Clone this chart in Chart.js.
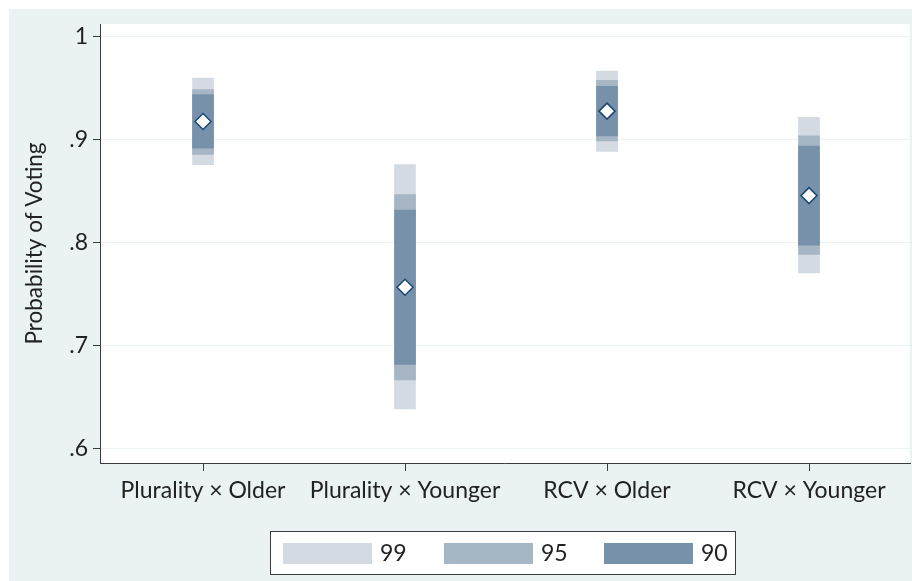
<!DOCTYPE html>
<html>
<head>
<meta charset="utf-8">
<script src="https://cdn.jsdelivr.net/npm/chart.js@4/dist/chart.umd.min.js"></script>
<style>
  html, body { margin: 0; padding: 0; background: #ffffff; }
  #wrap { width: 912px; height: 581px; position: relative; }
</style>
</head>
<body>
<div id="wrap"><canvas id="chart" width="912" height="581"></canvas></div>
<script>
// Predicted probability of voting by electoral system and age group,
// with nested 99 / 95 / 90 percent confidence intervals.
const categories = ['Plurality × Older', 'Plurality × Younger', 'RCV × Older', 'RCV × Younger'];
const estimate = [0.918, 0.757, 0.928, 0.846];
const ci99Low  = [0.876, 0.639, 0.889, 0.771];
const ci99High = [0.960, 0.876, 0.967, 0.922];
const ci95Low  = [0.886, 0.667, 0.899, 0.789];
const ci95High = [0.949, 0.847, 0.958, 0.904];
const ci90Low  = [0.892, 0.682, 0.904, 0.798];
const ci90High = [0.944, 0.832, 0.952, 0.894];
const yTicks = [0.6, 0.7, 0.8, 0.9, 1];
const levelLabels = ['99', '95', '90'];

const BG = '#eaf2f3';
const INK = '#222222';
const AXIS = '#3c3c3c';
const FONT = 'Lato, "Open Sans", sans-serif';

Chart.defaults.font.family = FONT;
Chart.defaults.color = INK;

function intervalData(lo, hi) {
  return categories.map((c, i) => ({ x: i + 1, y: [lo[i], hi[i]] }));
}

function band(label, lo, hi, color, order) {
  return {
    type: 'bar',
    label: label,
    data: intervalData(lo, hi),
    backgroundColor: color,
    borderWidth: 0,
    barThickness: 21,
    grouped: false,
    order: order
  };
}

// Page background, outer margin and white plot region
const backdrop = {
  id: 'backdrop',
  beforeDraw(chart) {
    const { ctx, width, height, chartArea: a } = chart;
    ctx.save();
    ctx.fillStyle = '#ffffff';
    ctx.fillRect(0, 0, width, height);
    ctx.fillStyle = BG;
    ctx.fillRect(9, 9, width - 9, height - 9);
    ctx.fillStyle = '#ffffff';
    ctx.fillRect(a.left, a.top, a.right - a.left, a.bottom - a.top);
    ctx.restore();
  }
};

// Boxed legend for the three interval bands, below the plot
const boxedLegend = {
  id: 'boxedLegend',
  afterDraw(chart) {
    const { ctx } = chart;
    const boxW = 465, boxH = 43;
    const left = 270.5;
    const top = 531.5;
    ctx.save();
    ctx.fillStyle = '#ffffff';
    ctx.fillRect(left, top, boxW, boxH);
    ctx.strokeStyle = AXIS;
    ctx.lineWidth = 1;
    ctx.strokeRect(left, top, boxW, boxH);
    ctx.font = '23px ' + FONT;
    ctx.textBaseline = 'middle';
    ctx.textAlign = 'left';
    const pitch = 160.5;
    chart.data.datasets.filter(d => d.type === 'bar').forEach((d, k) => {
      const sx = Math.round(left + 12.5 + k * pitch);
      const sy = top + 11.5;
      ctx.fillStyle = d.backgroundColor;
      ctx.fillRect(sx, sy, 89, 21);
      ctx.fillStyle = INK;
      ctx.fillText(d.label, sx + 97, sy + 11);
    });
    ctx.restore();
  }
};

new Chart(document.getElementById('chart'), {
  data: {
    datasets: [
      band(levelLabels[0], ci99Low, ci99High, '#d3dae2', 4),
      band(levelLabels[1], ci95Low, ci95High, '#a6b6c5', 3),
      band(levelLabels[2], ci90Low, ci90High, '#7891aa', 2),
      {
        type: 'line',
        label: 'Estimate',
        data: categories.map((c, i) => ({ x: i + 1, y: estimate[i] })),
        showLine: false,
        pointStyle: 'rectRot',
        pointRadius: 8,
        pointBackgroundColor: '#ffffff',
        pointBorderColor: '#1a476f',
        pointBorderWidth: 1.5,
        order: 1
      }
    ]
  },
  options: {
    responsive: false,
    animation: false,
    layout: { autoPadding: false, padding: { top: 24, right: 2, left: 0, bottom: 68 } },
    plugins: {
      legend: { display: false },
      tooltip: { enabled: false }
    },
    scales: {
      x: {
        type: 'linear',
        min: 0.49,
        max: 4.5,
        offset: false,
        afterBuildTicks(scale) { scale.ticks = categories.map((c, i) => ({ value: i + 1 })); },
        afterFit(scale) {
          scale.height = 50;
          scale.paddingLeft = 0;
          scale.paddingRight = 0;
        },
        ticks: {
          autoSkip: false,
          maxRotation: 0,
          padding: 6,
          font: { size: 23 },
          color: INK,
          callback: v => categories[v - 1]
        },
        grid: { offset: false, drawOnChartArea: false, drawTicks: true, tickLength: 8, tickColor: AXIS, tickWidth: 1 },
        border: { display: true, color: AXIS, width: 1 }
      },
      y: {
        min: 0.5864,
        max: 1.0126,
        afterBuildTicks(scale) { scale.ticks = yTicks.map(v => ({ value: v })); },
        afterFit(scale) { scale.width = 100; },
        ticks: {
          padding: 5,
          font: { size: 23 },
          color: INK,
          callback: v => String(Math.round(v * 10) / 10).replace(/^0/, '')
        },
        grid: { color: BG, lineWidth: 1, drawTicks: true, tickLength: 7, tickColor: AXIS, tickWidth: 1 },
        border: { display: true, color: AXIS, width: 1 },
        title: {
          display: true,
          text: 'Probability of Voting',
          font: { size: 22.5 },
          color: INK,
          padding: { top: 21, bottom: 0 }
        }
      }
    }
  },
  plugins: [backdrop, boxedLegend]
});
</script>
</body>
</html>
